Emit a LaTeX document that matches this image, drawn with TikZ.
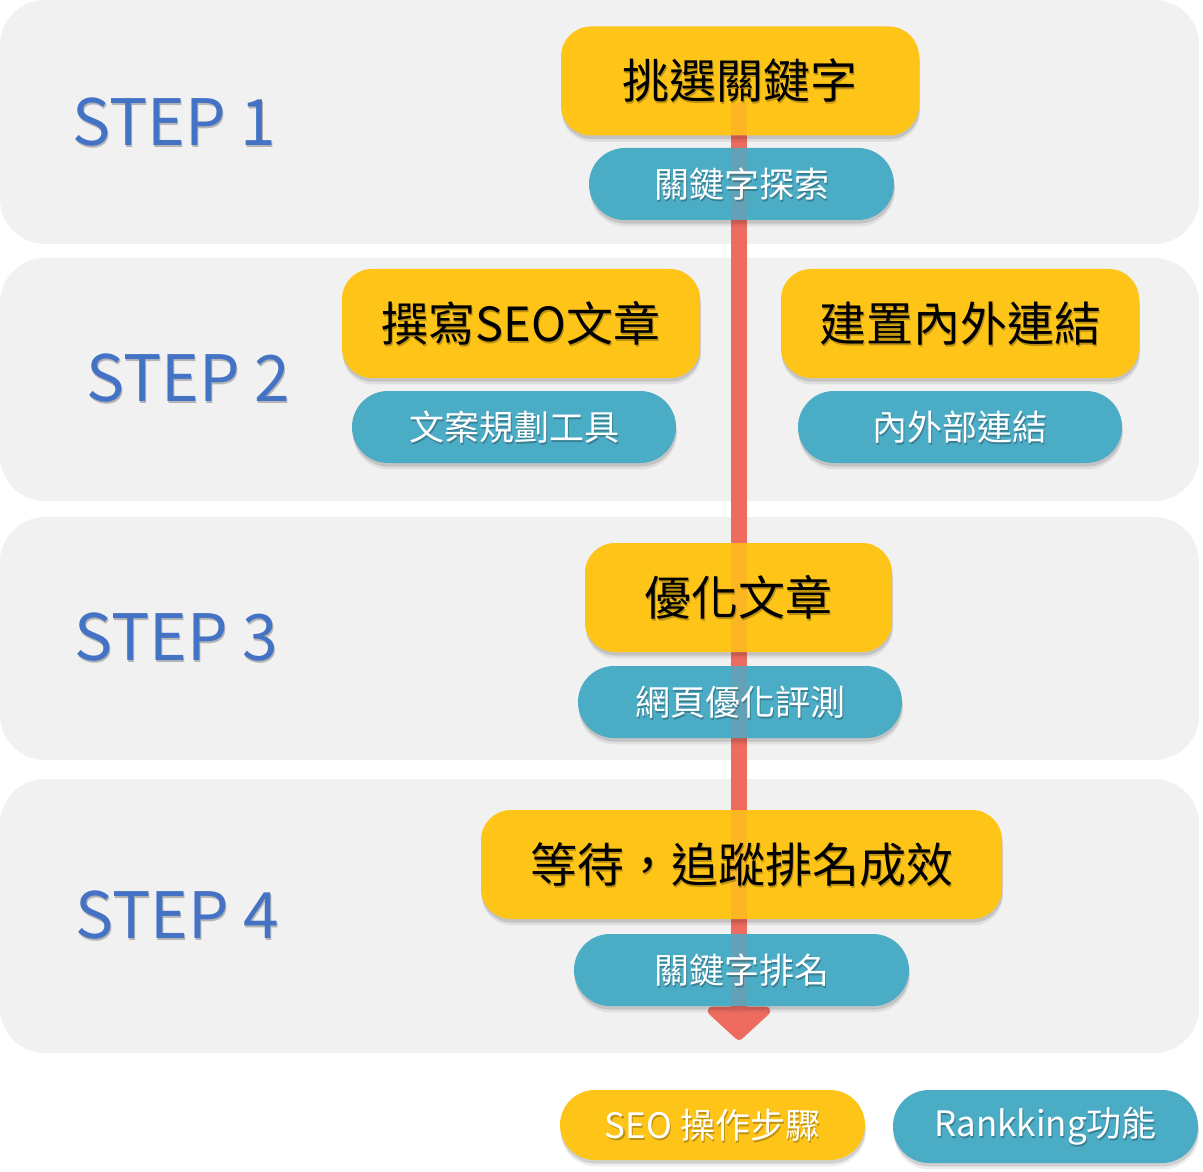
\documentclass[tikz,border=0pt]{standalone}
\usepackage{fontspec}
\newfontfamily\cjk{Noto Sans CJK TC}
\usetikzlibrary{shadows,arrows.meta}
\definecolor{panelgray}{HTML}{F1F1F1}
\definecolor{stepblue}{HTML}{4472C4}
\definecolor{boxyellow}{HTML}{FEC418}
\definecolor{boxblue}{HTML}{4BACC6}
\definecolor{arrowred}{HTML}{EE6B5F}
\tikzset{
  panel/.style={fill=panelgray, rounded corners=22.5pt},
  boxshadow/.style={
    drop shadow={shadow xshift=0.4pt, shadow yshift=-3.2pt, opacity=0.07, fill=black},
    drop shadow={shadow xshift=0.3pt, shadow yshift=-1.8pt, opacity=0.12, fill=black}},
  ybox/.style={fill=boxyellow, rounded corners=15pt, minimum height=54.5pt, inner sep=0pt, boxshadow},
  bbox/.style={fill=boxblue, rounded corners=18pt, minimum height=36pt, inner sep=0pt, boxshadow},
  ytext/.style={font=\cjk\fontsize{23.5}{28}\selectfont, text=black, inner sep=0pt},
  btext/.style={font=\cjk\fontsize{17.5}{21}\selectfont, text=white, inner sep=0pt},
  steplabel/.style={font=\cjk\fontsize{32}{36}\selectfont, text=stepblue, inner sep=0pt},
  flow/.style={draw=arrowred, line width=8pt, -{Triangle[length=17.5pt,width=37pt,round]}},
}
\newcommand\shtext[4]{%
  \node[#3, text=black, opacity=0.25, xshift=0.6pt, yshift=-0.9pt] (#1s) at (#2) {#4};
  \node[#3] (#1) at (#2) {#4};}
\begin{document}
\begin{tikzpicture}[x=0.5pt,y=-0.5pt]
\useasboundingbox[fill=white] (0,0) rectangle (1203,1171);
% panels
\fill[panel] (0,0) rectangle (1199,244);
\fill[panel] (0,258) rectangle (1199,501);
\fill[panel] (0,517) rectangle (1199,760);
\fill[panel] (0,779) rectangle (1199,1053);
% arrow (base)
\coordinate (arrowtop) at (739,103);
\coordinate (arrowend) at (739,1040);
\draw[flow] (arrowtop) -- (arrowend);
% boxes
\node[ybox, minimum width=179pt] (y1) at (740,81) {};
\node[bbox, minimum width=152.5pt] (b1) at (741.5,184) {};
\node[ybox, minimum width=179pt] (y2a) at (521,323.5) {};
\node[ybox, minimum width=179pt] (y2b) at (960,323.5) {};
\node[bbox, minimum width=162pt] (b2a) at (514,427) {};
\node[bbox, minimum width=162pt] (b2b) at (960,427) {};
\node[ybox, minimum width=153.5pt] (y3) at (738.5,597.5) {};
\node[bbox, minimum width=162pt] (b3) at (740,702) {};
\node[ybox, minimum width=260.5pt] (y4) at (741.5,864.5) {};
\node[bbox, minimum width=167.5pt] (b4) at (741.5,970) {};
% arrow overlay (seen through boxes)
\draw[flow, opacity=0.15] (arrowtop) -- (arrowend);
% box texts
\shtext{ty1}{y1.center}{ytext}{挑選關鍵字}
\shtext{tb1}{b1.center}{btext}{關鍵字探索}
\shtext{ty2a}{y2a.center}{ytext}{撰寫SEO文章}
\shtext{ty2b}{y2b.center}{ytext}{建置內外連結}
\shtext{tb2a}{b2a.center}{btext}{文案規劃工具}
\shtext{tb2b}{b2b.center}{btext}{內外部連結}
\shtext{ty3}{y3.center}{ytext}{優化文章}
\shtext{tb3}{b3.center}{btext}{網頁優化評測}
\shtext{ty4}{y4.center}{ytext}{等待，追蹤排名成效}
\shtext{tb4}{b4.center}{btext}{關鍵字排名}
% step labels
\shtext{s1}{174,122}{steplabel}{STEP 1}
\shtext{s2}{188,378}{steplabel}{STEP 2}
\shtext{s3}{176,637}{steplabel}{STEP 3}
\shtext{s4}{177,915}{steplabel}{STEP 4}
% legend
\node[ybox, minimum width=152.5pt, minimum height=35pt, rounded corners=17.5pt] (ly) at (712.5,1125) {};
\node[bbox, minimum width=152.5pt, minimum height=36.5pt, rounded corners=18pt] (lb) at (1045.5,1126.5) {};
\shtext{tly}{ly.center}{btext}{SEO 操作步驟}
\shtext{tlb}{lb.center}{btext}{Rankking功能}
\end{tikzpicture}
\end{document}
